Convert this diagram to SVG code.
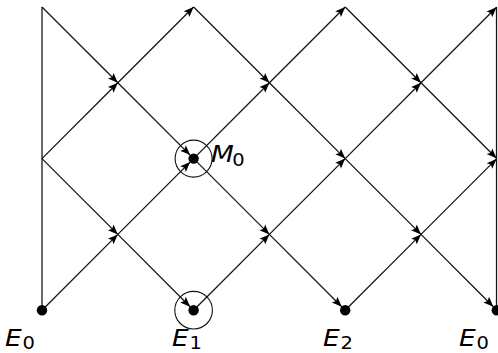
<svg xmlns="http://www.w3.org/2000/svg" width="498" height="353" viewBox="0 0 498 353">
<style>
.ln{stroke:#111;stroke-width:1.25;fill:none}
.ar{stroke:#111;stroke-width:1.25;fill:none;marker-end:url(#ah)}
.dot{fill:#000}
.ring{fill:none;stroke:#111;stroke-width:1.1}
.lb{font-family:"DejaVu Sans",sans-serif;font-size:23px;font-style:italic;fill:#000}
.sb{font-style:normal;font-size:17px}
</style>
<defs>
<marker id="ah" viewBox="-11 -4.5 11 9" refX="0" refY="0" markerWidth="11" markerHeight="9" orient="auto" markerUnits="userSpaceOnUse">
<path d="M0,0 L-10,-4 L-8,0 L-10,4 z" fill="#000"/>
</marker>
</defs>
<rect width="498" height="353" fill="#fff"/>
<g id="connectors">
<line class="ln" x1="42" y1="7" x2="42" y2="310.2"/>
<line class="ln" x1="496.5" y1="7" x2="496.5" y2="310.2"/>
<line class="ar" x1="42" y1="7" x2="117.8" y2="82.8"/>
<line class="ar" x1="117.8" y1="82.8" x2="190.1" y2="155.1"/>
<line class="ar" x1="193.6" y1="158.6" x2="269.4" y2="234.4"/>
<line class="ar" x1="269.4" y1="234.4" x2="341.7" y2="306.7"/>
<line class="ar" x1="42" y1="310.2" x2="117.8" y2="234.4"/>
<line class="ar" x1="117.8" y1="234.4" x2="190.1" y2="162.1"/>
<line class="ar" x1="193.6" y1="158.6" x2="269.4" y2="82.8"/>
<line class="ar" x1="269.4" y1="82.8" x2="345.2" y2="7"/>
<line class="ar" x1="42" y1="158.6" x2="117.8" y2="82.8"/>
<line class="ar" x1="117.8" y1="82.8" x2="193.6" y2="7"/>
<line class="ar" x1="42" y1="158.6" x2="117.8" y2="234.4"/>
<line class="ar" x1="117.8" y1="234.4" x2="190.1" y2="306.7"/>
<line class="ar" x1="193.6" y1="7" x2="269.4" y2="82.8"/>
<line class="ar" x1="269.4" y1="82.8" x2="345.2" y2="158.6"/>
<line class="ar" x1="345.2" y1="158.6" x2="421" y2="234.4"/>
<line class="ar" x1="421" y1="234.4" x2="493.3" y2="306.7"/>
<line class="ar" x1="193.6" y1="310.2" x2="269.4" y2="234.4"/>
<line class="ar" x1="269.4" y1="234.4" x2="345.2" y2="158.6"/>
<line class="ar" x1="345.2" y1="158.6" x2="421" y2="82.8"/>
<line class="ar" x1="421" y1="82.8" x2="496.5" y2="7.3"/>
<line class="ar" x1="345.2" y1="7" x2="421" y2="82.8"/>
<line class="ar" x1="421" y1="82.8" x2="496.5" y2="158.3"/>
<line class="ar" x1="345.2" y1="310.2" x2="421" y2="234.4"/>
<line class="ar" x1="421" y1="234.4" x2="496.5" y2="158.9"/>
</g>
<g id="node-M0">
<circle class="ring" cx="193.6" cy="158.6" r="18.5"/>
<circle class="dot" cx="193.6" cy="158.6" r="5.2"/>
<text class="lb" transform="translate(211,162) scale(1.15,1)">M<tspan class="sb" x="18.5" dy="4">0</tspan></text>
</g>
<g id="node-E0">
<circle class="dot" cx="42" cy="310.2" r="5.2"/>
<text class="lb" transform="translate(5,345.5) scale(1.15,1)">E<tspan class="sb" x="15.3" dy="3.5">0</tspan></text>
</g>
<g id="node-E1">
<circle class="ring" cx="193.6" cy="310.2" r="18.8"/>
<circle class="dot" cx="193.6" cy="310.2" r="5.2"/>
<text class="lb" transform="translate(172,345.5) scale(1.15,1)">E<tspan class="sb" x="15.3" dy="3.5">1</tspan></text>
</g>
<g id="node-E2">
<circle class="dot" cx="345.2" cy="310.2" r="5.2"/>
<text class="lb" transform="translate(323,345.5) scale(1.15,1)">E<tspan class="sb" x="15.3" dy="3.5">2</tspan></text>
</g>
<g id="node-E0-right">
<circle class="dot" cx="496.8" cy="310.2" r="5.2"/>
<text class="lb" transform="translate(459,345.5) scale(1.15,1)">E<tspan class="sb" x="15.3" dy="3.5">0</tspan></text>
</g>
</svg>
